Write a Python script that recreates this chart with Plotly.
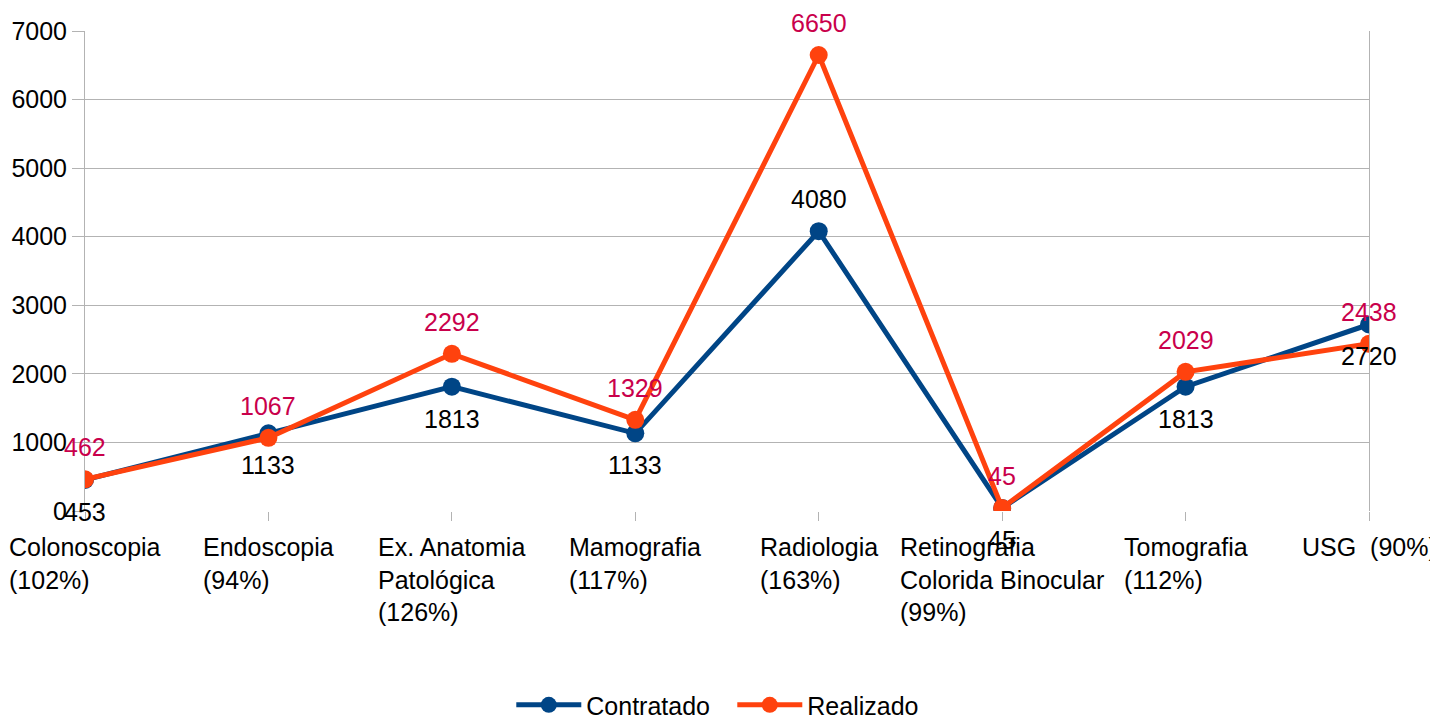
import plotly.graph_objects as go

categories = ["Colonoscopia<br>(102%)", "Endoscopia<br>(94%)", "Ex. Anatomia<br>Patológica<br>(126%)",
              "Mamografia<br>(117%)", "Radiologia<br>(163%)", "Retinografia<br>Colorida Binocular<br>(99%)",
              "Tomografia<br>(112%)", "USG  (90%)"]
contratado = [453, 1133, 1813, 1133, 4080, 45, 1813, 2720]
realizado = [462, 1067, 2292, 1329, 6650, 45, 2029, 2438]
# label placement for Contratado: -1 below, +1 above
contratado_label_side = [-1, -1, -1, -1, 1, -1, -1, -1]
y_ticks = [0, 1000, 2000, 3000, 4000, 5000, 6000, 7000]

BLUE = "#004586"
ORANGE = "#ff420e"
LABEL_RED = "#c9004b"
GRID = "#b3b3b3"
FONT = "Liberation Sans, Arial, sans-serif"
FS = 25

x = list(range(len(categories)))

fig = go.Figure()
fig.add_trace(go.Scatter(x=x, y=contratado, name="Contratado", mode="lines+markers",
                         line=dict(color=BLUE, width=5), marker=dict(color=BLUE, size=18)))
fig.add_trace(go.Scatter(x=x, y=realizado, name="Realizado", mode="lines+markers",
                         line=dict(color=ORANGE, width=5), marker=dict(color=ORANGE, size=18)))

annotations = []
for i, v in enumerate(contratado):
    annotations.append(dict(x=i, y=v, xref="x", yref="y", text=str(v), showarrow=False,
                            yshift=32 * contratado_label_side[i],
                            font=dict(family=FONT, size=FS, color="#000000")))
for i, v in enumerate(realizado):
    annotations.append(dict(x=i, y=v, xref="x", yref="y", text=str(v), showarrow=False,
                            yshift=32, font=dict(family=FONT, size=FS, color=LABEL_RED)))
for i, c in enumerate(categories):
    annotations.append(dict(x=i, y=0, xref="x", yref="paper", text=c, showarrow=False,
                            align="left", xanchor="center", yanchor="top", yshift=-20,
                            font=dict(family=FONT, size=FS, color="#000000")))

fig.update_layout(
    width=1430, height=707,
    margin=dict(l=77, r=69, t=23, b=204, autoexpand=False),
    paper_bgcolor="white", plot_bgcolor="white",
    font=dict(family=FONT, size=FS, color="#000000"),
    showlegend=True,
    legend=dict(orientation="h", x=0.5065, xref="container", xanchor="center",
                y=0.014, yref="container", yanchor="middle",
                font=dict(family=FONT, size=FS), itemwidth=65,
                entrywidth=141, entrywidthmode="pixels"),
    annotations=annotations,
    xaxis=dict(range=[0, 7], tickvals=x, showticklabels=False, ticks="outside",
               ticklen=9, tickcolor=GRID, tickwidth=1, showgrid=False, zeroline=False,
               showline=False, fixedrange=True, automargin=False),
    yaxis=dict(range=[0, 7000], tickvals=y_ticks, ticks="outside", ticklen=12,
               tickcolor=GRID, showgrid=True, gridcolor=GRID, gridwidth=1,
               showline=True, mirror=True, linecolor=GRID, linewidth=1, zeroline=False,
               tickfont=dict(family=FONT, size=FS), fixedrange=True, automargin=False),
)

fig.write_html("out.html")
